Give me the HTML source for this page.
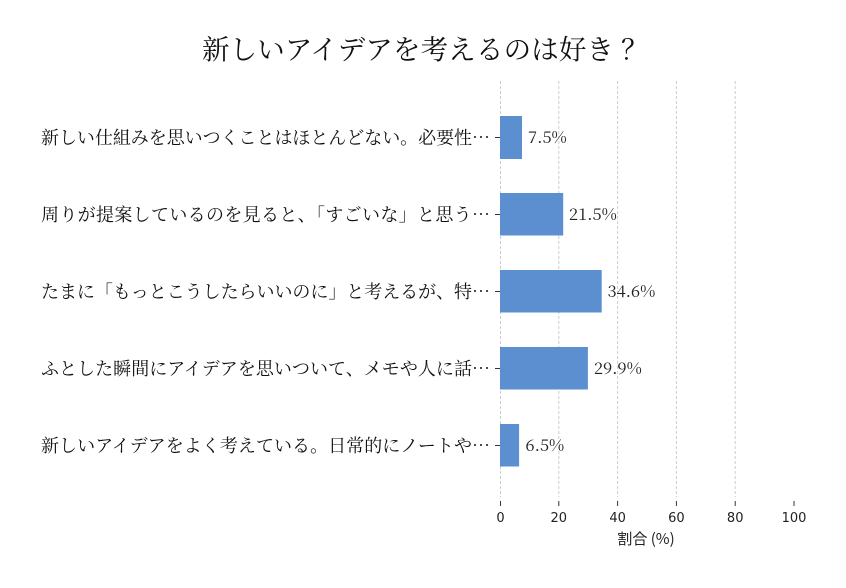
<!DOCTYPE html>
<html>
<head>
<meta charset="utf-8">
<style>
  html, body { margin:0; padding:0; background:#ffffff; }
  body { width:846px; height:588px; overflow:hidden; }
  svg { display:block; }
  .cjkserif { font-family: "Noto Serif CJK SC", "Liberation Serif", serif; }
  .tick { font-family: "DejaVu Sans", "Liberation Sans", sans-serif; font-size:13px; fill:#222; }
</style>
</head>
<body>
<svg width="846" height="588" viewBox="0 0 846 588" xmlns="http://www.w3.org/2000/svg">
  <rect width="846" height="588" fill="#ffffff"/>

  <!-- Title -->
  <text x="202" y="59" class="cjkserif" font-size="27.5" fill="#111" textLength="412" lengthAdjust="spacing">新しいアイデアを考えるのは好き</text>
  <text x="621" y="59" class="cjkserif" font-size="27.5" fill="#111">？</text>

  <!-- grid lines -->
  <g stroke="#cccccc" stroke-width="1" stroke-dasharray="3,2">
    <line x1="500.5" y1="81" x2="500.5" y2="497"/>
    <line x1="558.8" y1="81" x2="558.8" y2="497"/>
    <line x1="617.6" y1="81" x2="617.6" y2="497"/>
    <line x1="676.4" y1="81" x2="676.4" y2="497"/>
    <line x1="735.2" y1="81" x2="735.2" y2="497"/>
  </g>

  <!-- bars -->
  <g fill="#5b8fd0">
    <rect x="500" y="116" width="22" height="43"/>
    <rect x="500" y="193" width="63.2" height="42.5"/>
    <rect x="500" y="270" width="101.7" height="42.5"/>
    <rect x="500" y="347" width="87.9" height="42.5"/>
    <rect x="500" y="424" width="19.1" height="42.5"/>
  </g>

  <!-- value labels -->
  <g class="cjkserif" font-size="16.5" fill="#222">
    <text x="528" y="143">7.5%</text>
    <text x="569" y="220">21.5%</text>
    <text x="607.5" y="297">34.6%</text>
    <text x="594" y="374">29.9%</text>
    <text x="525.5" y="451">6.5%</text>
  </g>

  <!-- y tick marks -->
  <g stroke="#333" stroke-width="1">
    <line x1="495" y1="137.5" x2="500" y2="137.5"/>
    <line x1="495" y1="214.5" x2="500" y2="214.5"/>
    <line x1="495" y1="291.5" x2="500" y2="291.5"/>
    <line x1="495" y1="368.5" x2="500" y2="368.5"/>
    <line x1="495" y1="445.5" x2="500" y2="445.5"/>
  </g>

  <!-- category labels -->
  <g class="cjkserif" font-size="18" fill="#111">
    <text x="41" y="144" textLength="449" lengthAdjust="spacing">新しい仕組みを思いつくことはほとんどない。必要性…</text>
    <text x="41" y="221" textLength="449" lengthAdjust="spacing">周りが提案しているのを見ると、「すごいな」と思う…</text>
    <text x="41" y="298" textLength="449" lengthAdjust="spacing">たまに「もっとこうしたらいいのに」と考えるが、特…</text>
    <text x="41" y="375" textLength="449" lengthAdjust="spacing">ふとした瞬間にアイデアを思いついて、メモや人に話…</text>
    <text x="41" y="452" textLength="449" lengthAdjust="spacing">新しいアイデアをよく考えている。日常的にノートや…</text>
  </g>

  <!-- x tick marks -->
  <g stroke="#333" stroke-width="1">
    <line x1="500.5" y1="501" x2="500.5" y2="506"/>
    <line x1="558.8" y1="501" x2="558.8" y2="506"/>
    <line x1="617.6" y1="501" x2="617.6" y2="506"/>
    <line x1="676.4" y1="501" x2="676.4" y2="506"/>
    <line x1="735.2" y1="501" x2="735.2" y2="506"/>
    <line x1="794" y1="501" x2="794" y2="506"/>
  </g>

  <!-- x tick labels -->
  <g class="tick" text-anchor="middle">
    <text x="500.5" y="522">0</text>
    <text x="558.8" y="522">20</text>
    <text x="617.6" y="522">40</text>
    <text x="676.4" y="522">60</text>
    <text x="735.2" y="522">80</text>
    <text x="794" y="522">100</text>
  </g>

  <!-- x axis label -->
  <text x="646" y="544" text-anchor="middle" font-family="'Noto Sans CJK JP', 'DejaVu Sans', sans-serif" font-size="15" fill="#222">割合 (%)</text>
</svg>
</body>
</html>
